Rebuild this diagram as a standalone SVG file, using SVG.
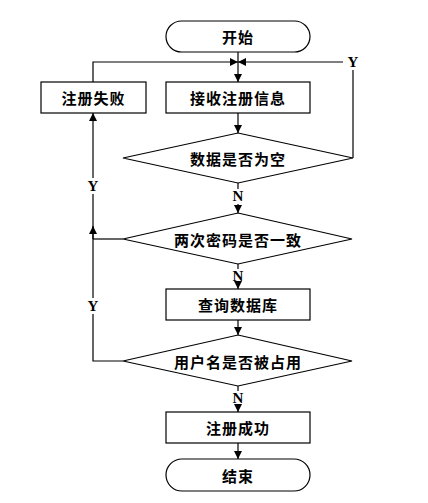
<svg xmlns="http://www.w3.org/2000/svg" width="428" height="503" viewBox="0 0 428 503">
<defs>
<marker id="ah" viewBox="0 0 10 10" refX="10" refY="5" markerWidth="8" markerHeight="8" markerUnits="userSpaceOnUse" orient="auto">
<path d="M0,0 L10,5 L0,10 z" fill="#000"/>
</marker>
</defs>
<style>
.shape{fill:#fff;stroke:#000;stroke-width:1.2}
.t{font-family:"Noto Sans CJK SC","Noto Sans CJK TC",sans-serif;font-size:15px;font-weight:bold;fill:#000;text-anchor:middle;dominant-baseline:central;letter-spacing:1px}
.c{fill:none;stroke:#000;stroke-width:1.2}
.lbl{font-family:"Liberation Serif",serif;font-size:15px;font-weight:bold;fill:#000;text-anchor:middle;dominant-baseline:central}
</style>
<rect width="428" height="503" fill="#fff"/>
<g id="connectors">
<path class="c" d="M238,52 V82" marker-end="url(#ah)"/>
<path class="c" d="M93,82 V62 H238" marker-end="url(#ah)"/>
<path class="c" d="M353,158 V70"/>
<path class="c" d="M343,62 H238" marker-end="url(#ah)"/>
<path class="c" d="M238,113 V133" marker-end="url(#ah)"/>
<path class="c" d="M238,183 V189"/>
<path class="c" d="M238,204 V213" marker-end="url(#ah)"/>
<path class="c" d="M123,239 H93"/>
<path class="c" d="M93,239 V226" marker-end="url(#ah)"/>
<path class="c" d="M238,264 V269"/>
<path class="c" d="M238,284 V289" marker-end="url(#ah)"/>
<path class="c" d="M238,320 V335" marker-end="url(#ah)"/>
<path class="c" d="M123,361 H93 V314"/>
<path class="c" d="M93,298 V194"/>
<path class="c" d="M93,178 V113" marker-end="url(#ah)"/>
<path class="c" d="M238,386 V391"/>
<path class="c" d="M238,406 V412" marker-end="url(#ah)"/>
<path class="c" d="M238,443 V459" marker-end="url(#ah)"/>
<text class="lbl" x="353" y="62">Y</text>
<text class="lbl" x="238" y="196">N</text>
<text class="lbl" x="238" y="276">N</text>
<text class="lbl" x="238" y="398">N</text>
<text class="lbl" x="93" y="186">Y</text>
<text class="lbl" x="93" y="306">Y</text>
</g>
<g id="start">
<rect class="shape" x="166" y="21" width="144" height="31" rx="15.5"/>
<text class="t" x="238" y="36.5">开始</text>
</g>
<g id="fail">
<rect class="shape" x="41" y="82" width="105" height="31"/>
<text class="t" x="93.5" y="97.5">注册失败</text>
</g>
<g id="receive">
<rect class="shape" x="166" y="82" width="144" height="31"/>
<text class="t" x="238" y="97.5">接收注册信息</text>
</g>
<g id="d1">
<polygon class="shape" points="238,133 353,158 238,183 123,158"/>
<text class="t" x="238" y="158">数据是否为空</text>
</g>
<g id="d2">
<polygon class="shape" points="238,213 352,239 238,264 123,239"/>
<text class="t" x="238" y="239">两次密码是否一致</text>
</g>
<g id="query">
<rect class="shape" x="166" y="289" width="144" height="31"/>
<text class="t" x="238" y="304.5">查询数据库</text>
</g>
<g id="d3">
<polygon class="shape" points="238,335 352,361 238,386 123,361"/>
<text class="t" x="238" y="361">用户名是否被占用</text>
</g>
<g id="success">
<rect class="shape" x="166" y="412" width="144" height="31"/>
<text class="t" x="238" y="427.5">注册成功</text>
</g>
<g id="end">
<rect class="shape" x="166" y="459" width="144" height="32" rx="16"/>
<text class="t" x="238" y="475">结束</text>
</g>
</svg>
